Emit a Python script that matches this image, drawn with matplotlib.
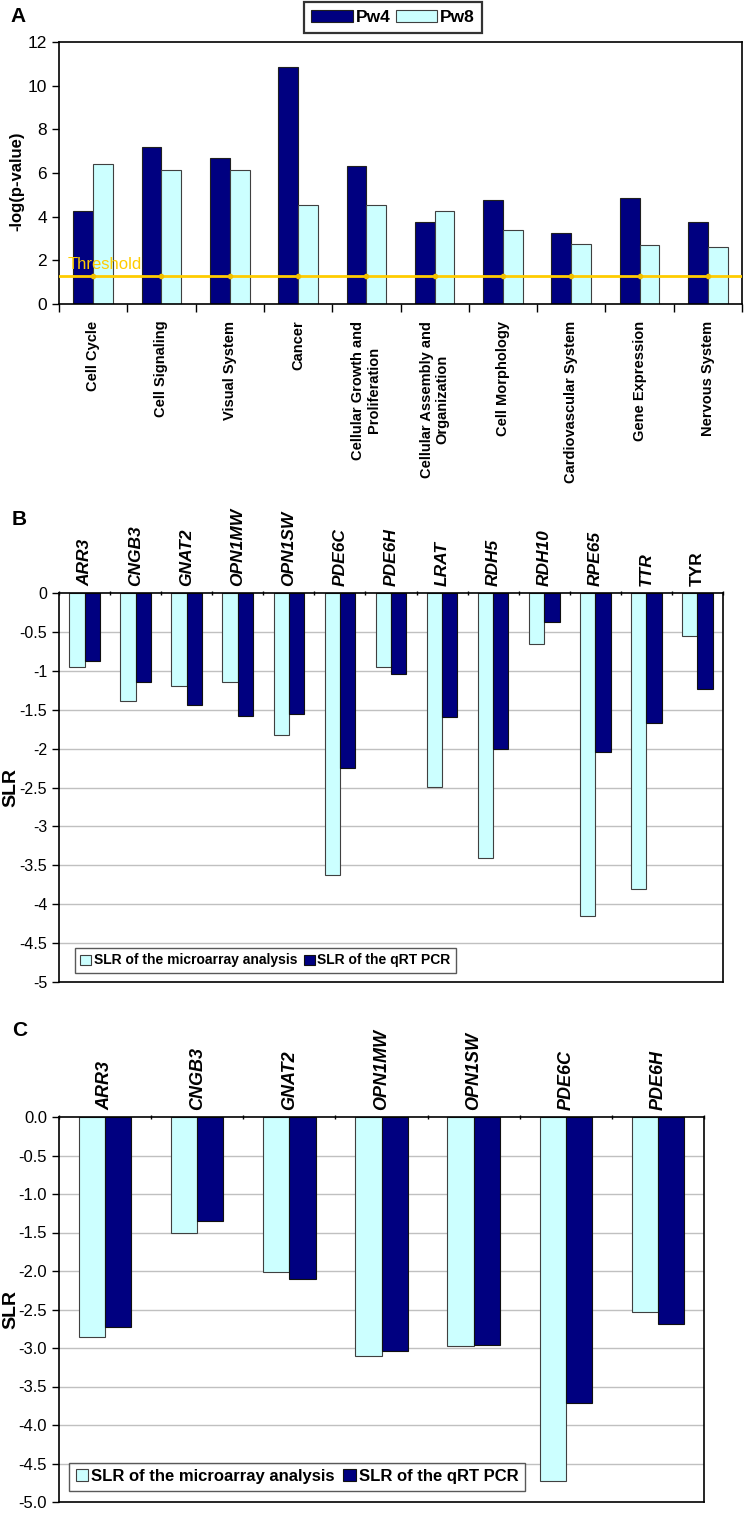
import numpy as np
import matplotlib
matplotlib.use("Agg")
import matplotlib.pyplot as plt

plt.rcParams['font.family'] = ['Liberation Sans', 'DejaVu Sans']

# Panel A data
categories_a = ["Cell Cycle", "Cell Signaling", "Visual System", "Cancer",
                "Cellular Growth and\nProliferation", "Cellular Assembly and\nOrganization",
                "Cell Morphology", "Cardiovascular System", "Gene Expression", "Nervous System"]
pw4 = [4.25, 7.2, 6.7, 10.85, 6.3, 3.75, 4.75, 3.25, 4.85, 3.75]
pw8 = [6.4, 6.15, 6.15, 4.55, 4.55, 4.25, 3.4, 2.75, 2.7, 2.6]
threshold = 1.3

# Panel B data
genes_b = ["ARR3", "CNGB3", "GNAT2", "OPN1MW", "OPN1SW", "PDE6C", "PDE6H",
           "LRAT", "RDH5", "RDH10", "RPE65", "TTR", "TYR"]
micro_b = [-0.95, -1.39, -1.19, -1.15, -1.83, -3.62, -0.95, -2.49, -3.40, -0.65, -4.15, -3.81, -0.55]
qpcr_b = [-0.87, -1.15, -1.44, -1.58, -1.55, -2.25, -1.04, -1.60, -2.00, -0.37, -2.05, -1.67, -1.23]

# Panel C data
genes_c = ["ARR3", "CNGB3", "GNAT2", "OPN1MW", "OPN1SW", "PDE6C", "PDE6H"]
micro_c = [-2.86, -1.50, -2.01, -3.11, -2.97, -4.73, -2.53]
qpcr_c = [-2.73, -1.35, -2.10, -3.04, -2.96, -3.71, -2.69]

DARK = "#000080"
LIGHT = "#ccffff"

W, H = 744, 1517
fig = plt.figure(figsize=(W / 100, H / 100), dpi=100)


def axes_px(left, top, right, bottom):
    return fig.add_axes([left / W, 1 - bottom / H, (right - left) / W, (bottom - top) / H])


# ---------------- Panel A ----------------
ax = axes_px(59, 42, 742, 304)
x = np.arange(len(categories_a))
bw = 0.29
ax.bar(x - bw / 2, pw4, bw, color=DARK, edgecolor="#202020", linewidth=0.8, label="Pw4")
ax.bar(x + bw / 2, pw8, bw, color=LIGHT, edgecolor="#404040", linewidth=0.8, label="Pw8")
ax.plot([-0.5, len(x) - 0.5], [threshold, threshold], color="#ffcc00", lw=2, zorder=3)
ax.plot(x, [threshold] * len(x), ls="none", marker="o", ms=3, color="#f0c000", zorder=3)
ax.text(-0.38, threshold + 0.15, "Threshold", color="#ffcc00", fontsize=12, va="bottom")
ax.set_xlim(-0.5, len(x) - 0.5)
ax.set_ylim(0, 12)
ax.set_yticks(range(0, 13, 2))
ax.set_xticks(x)
ax.set_xticklabels(categories_a, rotation=90, ha="center", va="top",
                   multialignment="center", fontsize=10.5, fontweight="bold")
ax.set_xticks(np.arange(len(x) + 1) - 0.5, minor=True)
ax.tick_params(axis="x", which="major", length=0, pad=12)
ax.tick_params(axis="x", which="minor", length=6, direction="out", width=1)
ax.tick_params(axis="y", length=5, width=1, direction="out", labelsize=12.5)
ax.set_ylabel("-log(p-value)", fontsize=12, fontweight="bold")
ax.yaxis.set_label_coords(-0.05, 0.47)
for sp in ax.spines.values():
    sp.set_linewidth(1.2)
leg = ax.legend(loc="lower center", bbox_to_anchor=(0.489, 1 + 9 / 262), ncol=2, frameon=True,
                fancybox=False, edgecolor="black", handlelength=2.4, handleheight=0.65,
                columnspacing=0.3, handletextpad=0.15, borderpad=0.45, borderaxespad=0,
                prop={"weight": "bold", "size": 12.5})
leg.get_frame().set_linewidth(1.6)
fig.text(10 / W, 1 - 17 / H, "A", fontsize=15, fontweight="bold", va="center")


def slr_panel(ax, genes, micro, qpcr, bw, italic_all, tick_fmt, tick_size,
              gene_size, leg_size, leg_anchor, label_x):
    x = np.arange(len(genes))
    ax.bar(x - bw / 2, micro, bw, color=LIGHT, edgecolor="#404040", linewidth=0.8,
           label="SLR of the microarray analysis", zorder=2)
    ax.bar(x + bw / 2, qpcr, bw, color=DARK, edgecolor="#101010", linewidth=0.8,
           label="SLR of the qRT PCR", zorder=2)
    ax.set_xlim(-0.5, len(x) - 0.5)
    ax.set_ylim(-5, 0)
    ticks = np.arange(0, -5.01, -0.5)
    ax.set_yticks(ticks)
    ax.set_yticklabels([tick_fmt(t) for t in ticks], fontsize=tick_size)
    for t in ticks[1:-1]:
        ax.axhline(t, color="#c0c0c0", lw=1, zorder=1)
    ax.xaxis.tick_top()
    ax.set_xticks(x)
    ax.set_xticklabels(genes, rotation=90, ha="center", va="bottom",
                       fontsize=gene_size, fontweight="bold")
    for lab, g in zip(ax.get_xticklabels(), genes):
        if italic_all or g != "TYR":
            lab.set_style("italic")
    ax.set_xticks(np.arange(len(x) + 1) - 0.5, minor=True)
    ax.tick_params(axis="x", which="major", length=0, pad=5)
    ax.tick_params(axis="x", which="minor", length=3, direction="inout", width=1, top=True)
    ax.tick_params(axis="y", length=5, width=1, direction="out")
    ax.set_ylabel("SLR", fontsize=14, fontweight="bold")
    ax.yaxis.set_label_coords(label_x, 0.5)
    for sp in ax.spines.values():
        sp.set_linewidth(1.2)
    leg = ax.legend(loc="lower left", bbox_to_anchor=leg_anchor, ncol=2, frameon=True,
                    fancybox=False, edgecolor="#303030", handlelength=0.75, handleheight=0.75,
                    columnspacing=0.5, handletextpad=0.2, borderpad=0.4, borderaxespad=0,
                    prop={"weight": "bold", "size": leg_size})
    leg.get_frame().set_linewidth(1.0)


# ---------------- Panel B ----------------
ax_b = axes_px(59, 593, 723, 982)
slr_panel(ax_b, genes_b, micro_b, qpcr_b, 0.30, False,
          lambda t: "0" if t == 0 else ("%g" % t), 11.5, 12.5, 10, (0.024, 0.023), -0.06)
fig.text(12 / W, 1 - 520 / H, "B", fontsize=15, fontweight="bold", va="center")

# ---------------- Panel C ----------------
ax_c = axes_px(59, 1117, 704, 1502)
slr_panel(ax_c, genes_c, micro_c, qpcr_c, 0.285, True,
          lambda t: "%.1f" % (t + 0.0), 12, 13, 12, (0.0155, 0.029), -0.062)
fig.text(12 / W, 1 - 1030 / H, "C", fontsize=15, fontweight="bold", va="center")

fig.savefig("out.png", dpi=100)
